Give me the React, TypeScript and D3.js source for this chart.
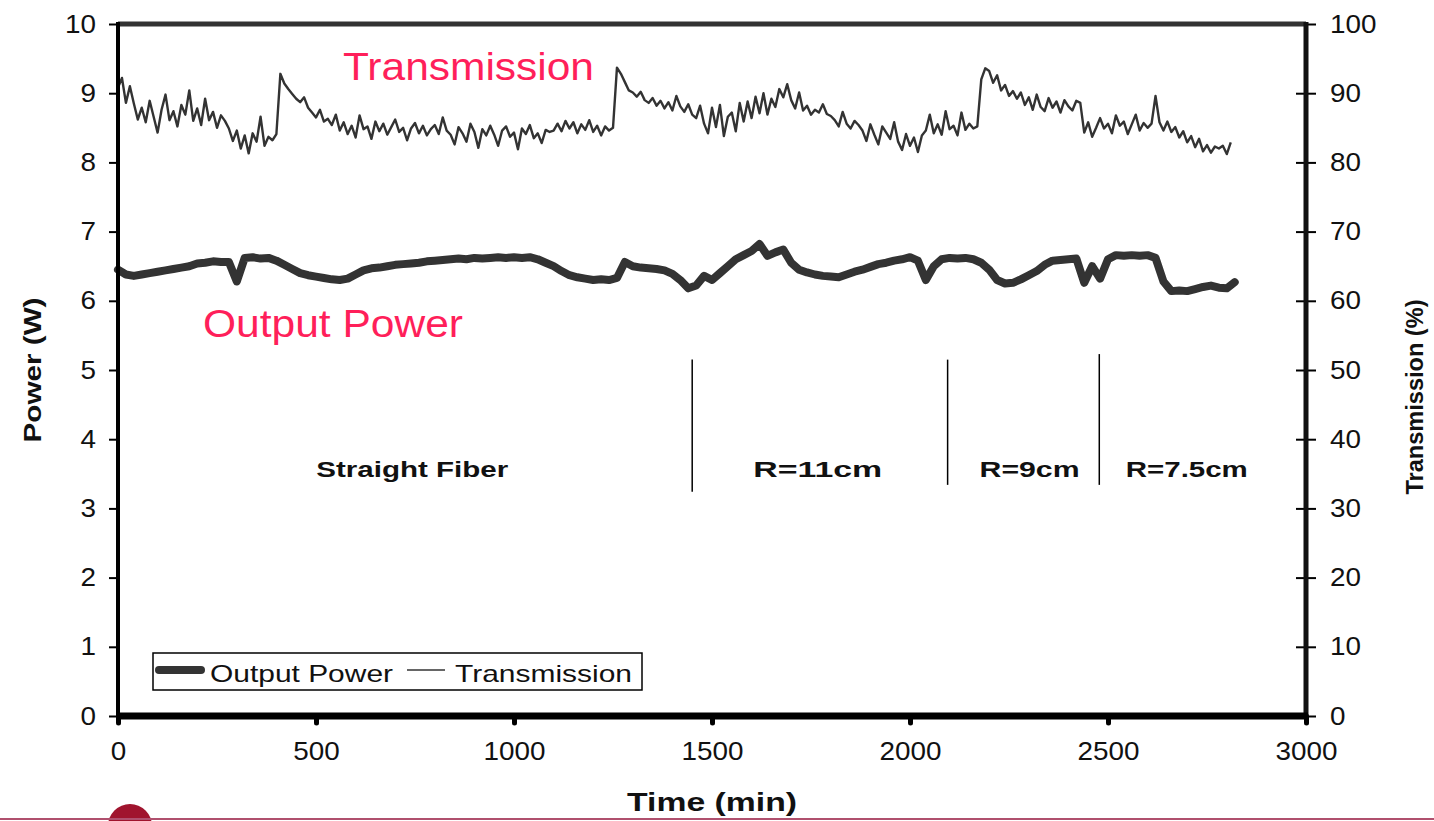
import { useEffect, useRef } from 'react';
import * as d3 from 'd3';

const W = 1434;
const H = 821;

// time axis (min) and the two value axes
const timeTicks = [0, 500, 1000, 1500, 2000, 2500, 3000];
const powerTicks = [0, 1, 2, 3, 4, 5, 6, 7, 8, 9, 10];
const transTicks = [0, 10, 20, 30, 40, 50, 60, 70, 80, 90, 100];

// output power (W), one sample every 20 min starting at t = 0
const POWER_STEP = 20;
const powerValues = [
  6.45, 6.38, 6.36, 6.38, 6.40, 6.42, 6.44, 6.46, 6.48, 6.50,
  6.54, 6.55, 6.57, 6.56, 6.56, 6.28, 6.62, 6.63, 6.61, 6.62,
  6.58, 6.52, 6.46, 6.40, 6.37, 6.35, 6.33, 6.31, 6.30, 6.32,
  6.38, 6.44, 6.47, 6.48, 6.50, 6.52, 6.53, 6.54, 6.55, 6.57,
  6.58, 6.59, 6.60, 6.61, 6.60, 6.62, 6.61, 6.62, 6.63, 6.62,
  6.63, 6.62, 6.63, 6.60, 6.55, 6.50, 6.43, 6.37, 6.34, 6.32,
  6.30, 6.31, 6.30, 6.33, 6.56, 6.50, 6.48, 6.47, 6.46, 6.44,
  6.39, 6.30, 6.18, 6.22, 6.36, 6.30, 6.40, 6.50, 6.60, 6.66,
  6.72, 6.82, 6.65, 6.70, 6.74, 6.55, 6.45, 6.41, 6.38, 6.36,
  6.35, 6.34, 6.38, 6.42, 6.45, 6.49, 6.53, 6.55, 6.58, 6.60,
  6.63, 6.58, 6.30, 6.50, 6.60, 6.62, 6.61, 6.62, 6.60, 6.55,
  6.45, 6.30, 6.25, 6.26, 6.31, 6.37, 6.43, 6.52, 6.58, 6.59,
  6.60, 6.61, 6.26, 6.50, 6.32, 6.60, 6.66, 6.65, 6.66, 6.65,
  6.66, 6.62, 6.28, 6.14, 6.15, 6.14, 6.17, 6.20, 6.22, 6.19,
  6.18, 6.27
];

// transmission (%), one sample every 10 min starting at t = 0
const TRANS_STEP = 10;
const transValues = [
  90.8, 92.2, 88.6, 91.0,
  88.5, 86.2, 87.9, 85.8, 88.9, 86.6, 84.3, 87.6, 89.8, 86.1, 87.4, 85.2, 88.3, 86.9, 90.4, 86.0, 87.8,
  85.4, 89.2, 86.1, 87.3, 85.0, 86.8, 86.0, 84.9,
  83.1, 84.6, 82.0, 83.9, 81.3, 84.2, 83.0, 86.6, 82.4, 83.7, 83.2, 84.1,
  92.8, 91.4, 90.6, 89.9, 89.2, 88.7, 89.4, 87.9, 87.2, 86.5, 87.6, 85.9, 86.3, 85.4, 86.9,
  84.6, 85.8, 84.1, 85.3, 83.6, 86.8, 84.8, 85.2, 83.4, 85.9, 84.5, 85.6, 84.0, 85.1, 86.2, 84.4,
  85.0, 83.2, 84.9, 85.7, 84.2, 85.3, 83.9, 84.8, 85.4, 84.1, 86.5, 84.6,
  84.0, 82.6, 85.1, 84.2, 83.0, 85.6, 84.4, 82.1, 84.8, 83.9, 85.3, 84.0, 82.4, 84.6, 85.2, 83.7,
  84.3, 81.9, 84.9, 84.1, 85.4, 83.5, 84.2, 82.8, 84.7, 84.4, 84.6,
  85.6, 84.5, 86.0, 84.9, 85.8, 84.2, 85.5, 84.7, 86.1, 84.4, 85.3, 83.9, 85.2, 84.6, 85.0,
  93.7, 92.8, 91.6, 90.4, 90.1, 89.5, 90.2, 89.0, 88.6, 89.3, 88.2, 88.9, 87.8, 88.7, 87.5, 89.6,
  88.1, 87.3, 88.4, 86.9, 86.4, 88.2, 85.6,
  84.2, 87.9, 85.1, 88.3, 83.8, 86.6, 87.2, 84.5, 88.6, 85.9,
  88.8, 86.4, 89.5, 87.1, 90.0, 86.9, 89.2, 88.0, 90.6, 89.4, 91.3,
  89.0, 87.8, 90.1, 87.5, 88.2, 86.9, 87.6, 87.2, 88.4, 87.0, 86.7,
  86.1, 85.2, 87.3, 85.6, 84.9, 86.0, 85.4,
  84.6, 83.1, 85.5, 84.0, 82.6, 85.2, 84.3, 83.4, 85.8,
  83.0, 81.8, 84.1, 82.4, 83.6, 81.5, 83.9,
  84.6, 86.9, 84.2, 85.5, 84.0, 87.4, 84.8, 85.3, 83.9, 87.2, 84.7, 85.6, 84.9, 85.2,
  92.0, 93.6, 93.2, 91.5, 92.6, 90.4, 91.2, 89.6, 90.3, 89.2, 90.1, 88.3, 89.4, 87.6, 89.8, 88.0,
  87.4, 89.3, 87.9, 88.8, 87.2, 89.0, 88.1, 87.5, 88.9, 88.6,
  84.3, 85.8, 83.7, 85.0, 86.4, 84.9, 85.6, 84.2, 86.8, 85.3, 85.9, 84.1, 85.5, 86.9, 84.6, 85.7,
  85.0, 85.6,
  89.6, 85.8, 84.6, 85.9, 84.4, 85.1, 83.6, 84.5, 82.9, 83.8, 82.2, 83.4, 81.6, 82.5, 81.4, 82.3,
  82.0, 82.4, 81.2, 82.9
];

// fiber condition segments
const segmentNames = ['Straight Fiber', 'R=11cm', 'R=9cm', 'R=7.5cm'];
const segmentChanges = [1450, 2095, 2478];

const FONT = '"Liberation Sans", Arial, sans-serif';
const INK = '#333333';
const PINK = '#ff1f5a';

export default function App() {
  const svgRef = useRef<SVGSVGElement>(null);

  useEffect(() => {
    if (!svgRef.current) return;
    const svg = d3.select(svgRef.current);
    svg.selectAll('*').remove();

    const left = 118, right = 1306, top = 24, bottom = 716;

    const x = d3.scaleLinear().domain([0, 3000]).range([left, right]);
    const yP = d3.scaleLinear().domain([0, 10]).range([bottom, top]);
    const yT = d3.scaleLinear().domain([0, 100]).range([bottom, top]);

    svg.append('rect').attr('width', W).attr('height', H).attr('fill', '#fff');

    // series
    const powerLine = d3.line<number>()
      .x((_, i) => x(i * POWER_STEP))
      .y(d => yP(d));
    const transLine = d3.line<number>()
      .x((_, i) => x(i * TRANS_STEP))
      .y(d => yT(d));

    svg.append('path')
      .datum(transValues)
      .attr('d', transLine)
      .attr('fill', 'none')
      .attr('stroke', INK)
      .attr('stroke-width', 2.4)
      .attr('stroke-linejoin', 'round');

    svg.append('path')
      .datum(powerValues)
      .attr('d', powerLine)
      .attr('fill', 'none')
      .attr('stroke', INK)
      .attr('stroke-width', 8)
      .attr('stroke-linejoin', 'round')
      .attr('stroke-linecap', 'round');

    // segment separators + labels
    const sepTop = [5.15, 5.15, 5.23];
    const sepBottom = [3.24, 3.34, 3.34];
    segmentChanges.forEach((t, i) => {
      svg.append('line')
        .attr('x1', x(t)).attr('x2', x(t))
        .attr('y1', yP(sepTop[i])).attr('y2', yP(sepBottom[i]))
        .attr('stroke', '#000')
        .attr('stroke-width', 1.5);
    });
    const labelCenters = [743, 1767, 2302, 2699];
    const labelWidths = [192, 129, 100, 122];
    segmentNames.forEach((name, i) => {
      svg.append('text')
        .attr('x', x(labelCenters[i]))
        .attr('y', yP(3.46))
        .attr('text-anchor', 'middle')
        .attr('font-family', FONT)
        .attr('font-weight', 'bold')
        .attr('font-size', 22)
        .attr('textLength', labelWidths[i])
        .attr('lengthAdjust', 'spacingAndGlyphs')
        .attr('fill', '#111')
        .text(name);
    });

    // in-plot series captions
    svg.append('text')
      .attr('x', 343).attr('y', 80)
      .attr('font-family', FONT).attr('font-size', 38)
      .attr('textLength', 251).attr('lengthAdjust', 'spacingAndGlyphs')
      .attr('fill', PINK)
      .text('Transmission');
    svg.append('text')
      .attr('x', 203).attr('y', 337)
      .attr('font-family', FONT).attr('font-size', 38)
      .attr('textLength', 260).attr('lengthAdjust', 'spacingAndGlyphs')
      .attr('fill', PINK)
      .text('Output Power');

    // axes
    const stretchDigits = (sel: d3.Selection<SVGGElement, unknown, null, undefined>) => {
      sel.selectAll<SVGTextElement, number>('text')
        .attr('font-family', FONT)
        .attr('font-size', 25)
        .attr('fill', '#111')
        .attr('textLength', function () { return (this.textContent || '').length * 15.5; })
        .attr('lengthAdjust', 'spacingAndGlyphs');
    };
    const fmt = d3.format('d');

    const gLeft = svg.append('g')
      .attr('transform', `translate(${left},0)`)
      .call(d3.axisLeft(yP).tickValues(powerTicks).tickFormat(fmt).tickSize(9).tickPadding(13));
    gLeft.select('.domain').remove();
    gLeft.selectAll('.tick line').attr('stroke', '#000').attr('stroke-width', 2);
    stretchDigits(gLeft);

    const gRight = svg.append('g')
      .attr('transform', `translate(${right},0)`)
      .call(d3.axisRight(yT).tickValues(transTicks).tickFormat(fmt).tickSize(10).tickPadding(14));
    gRight.select('.domain').remove();
    gRight.selectAll('.tick line').attr('x1', -10).attr('stroke', '#000').attr('stroke-width', 2);
    stretchDigits(gRight);

    const gBottom = svg.append('g')
      .attr('transform', `translate(0,${bottom})`)
      .call(d3.axisBottom(x).tickValues(timeTicks).tickFormat(fmt).tickSize(7).tickPadding(19));
    gBottom.select('.domain').remove();
    gBottom.selectAll('.tick line').attr('stroke', '#000').attr('stroke-width', 5).attr('stroke-linecap', 'round');
    stretchDigits(gBottom);

    // frame
    svg.append('line').attr('x1', left).attr('x2', right).attr('y1', top).attr('y2', top)
      .attr('stroke', INK).attr('stroke-width', 5);
    svg.append('line').attr('x1', left).attr('x2', left).attr('y1', top - 2).attr('y2', bottom)
      .attr('stroke', '#000').attr('stroke-width', 4);
    svg.append('line').attr('x1', right).attr('x2', right).attr('y1', top - 2).attr('y2', bottom)
      .attr('stroke', '#111').attr('stroke-width', 5);
    svg.append('line').attr('x1', left - 2).attr('x2', right + 2).attr('y1', bottom).attr('y2', bottom)
      .attr('stroke', '#000').attr('stroke-width', 7);

    // axis titles
    svg.append('text')
      .attr('transform', `translate(41,${(top + bottom) / 2}) rotate(-90)`)
      .attr('text-anchor', 'middle')
      .attr('font-family', FONT).attr('font-weight', 'bold').attr('font-size', 24)
      .attr('textLength', 145).attr('lengthAdjust', 'spacingAndGlyphs')
      .attr('fill', '#111')
      .text('Power (W)');
    svg.append('text')
      .attr('transform', `translate(1423,397) rotate(-90)`)
      .attr('text-anchor', 'middle')
      .attr('font-family', FONT).attr('font-weight', 'bold').attr('font-size', 24)
      .attr('textLength', 195).attr('lengthAdjust', 'spacingAndGlyphs')
      .attr('fill', '#111')
      .text('Transmission (%)');
    svg.append('text')
      .attr('x', x(1500)).attr('y', 811)
      .attr('text-anchor', 'middle')
      .attr('font-family', FONT).attr('font-weight', 'bold').attr('font-size', 25)
      .attr('textLength', 170).attr('lengthAdjust', 'spacingAndGlyphs')
      .attr('fill', '#111')
      .text('Time (min)');

    // legend
    const lg = svg.append('g').attr('transform', 'translate(153,653)');
    lg.append('rect')
      .attr('width', 489).attr('height', 37)
      .attr('fill', '#fff').attr('stroke', '#000').attr('stroke-width', 1.5);
    lg.append('line').attr('x1', 6).attr('x2', 48).attr('y1', 17).attr('y2', 17)
      .attr('stroke', INK).attr('stroke-width', 8).attr('stroke-linecap', 'round');
    lg.append('text').attr('x', 57).attr('y', 29)
      .attr('font-family', FONT).attr('font-size', 24)
      .attr('textLength', 183).attr('lengthAdjust', 'spacingAndGlyphs')
      .attr('fill', '#111')
      .text('Output Power');
    lg.append('line').attr('x1', 254).attr('x2', 292).attr('y1', 17).attr('y2', 17)
      .attr('stroke', INK).attr('stroke-width', 1.5);
    lg.append('text').attr('x', 302).attr('y', 29)
      .attr('font-family', FONT).attr('font-size', 24)
      .attr('textLength', 177).attr('lengthAdjust', 'spacingAndGlyphs')
      .attr('fill', '#111')
      .text('Transmission');

    // slide decoration at the bottom edge
    svg.append('circle').attr('cx', 130).attr('cy', 826).attr('r', 22).attr('fill', '#a0142e');
    svg.append('line').attr('x1', 0).attr('x2', W).attr('y1', 819).attr('y2', 819)
      .attr('stroke', '#b0506e').attr('stroke-width', 2);
  }, []);

  return (
    <div style={{ position: 'absolute', left: 0, top: 0 }}>
      <svg ref={svgRef} width={W} height={H} style={{ display: 'block' }}></svg>
    </div>
  );
}
